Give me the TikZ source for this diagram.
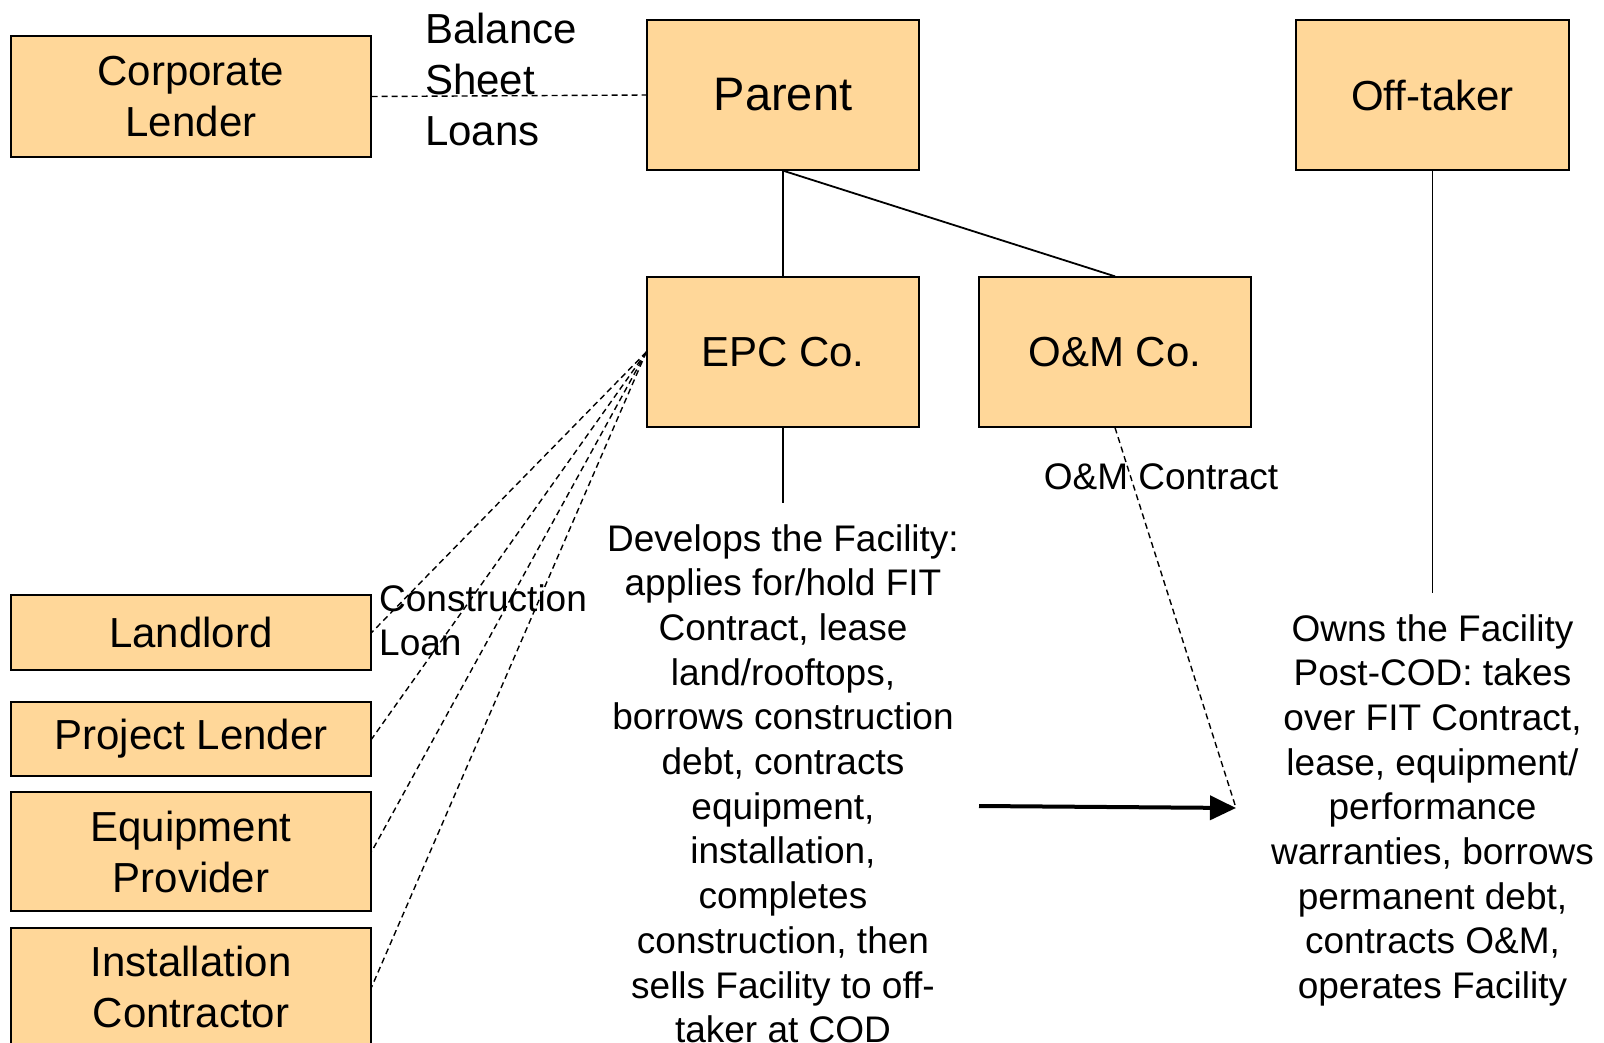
\documentclass[tikz,border=0pt]{standalone}
\usepackage{fontspec}
\setmainfont{Liberation Sans}
\usetikzlibrary{arrows.meta}
\definecolor{boxfill}{HTML}{FFD799}
\tikzset{
  box/.style={draw=black, fill=boxfill, line width=1.3pt, inner sep=0pt, align=center,
    minimum width=#1, font=\fontsize{42}{51}\selectfont},
  box/.default=360pt,
  conn/.style={line width=1.8pt},
  dconn/.style={line width=1.4pt, dash pattern=on 6pt off 4pt},
  lbl/.style={inner sep=0pt, align=left, font=\fontsize{37}{44}\selectfont},
  body/.style={inner xsep=0pt, inner ysep=21pt, align=center, font=\fontsize{37}{44.7}\selectfont},
}
\begin{document}
\begin{tikzpicture}[x=1pt,y=-1pt]
\useasboundingbox (0,0) rectangle (1604,1043);
% boxes
\node[box, minimum height=121pt] (corp) at (191,96.5) {Corporate\\Lender};
\node[box=272pt, minimum height=150pt, font=\fontsize{47}{56}\selectfont] (parent) at (783,95) {Parent};
\node[box=273pt, minimum height=150pt] (off) at (1432.5,95) {Off-taker};
\node[box=272pt, minimum height=150pt] (epc) at (783,352) {EPC Co.};
\node[box=272pt, minimum height=150pt] (om) at (1115,352) {O\&M Co.};
\node[box, minimum height=75pt] (land) at (191,632.5) {Landlord};
\node[box, minimum height=74pt] (proj) at (191,739) {Project Lender};
\node[box, minimum height=119pt] (equip) at (191,851.5) {Equipment\\Provider};
\node[box, minimum height=118pt] (inst) at (191,987) {Installation\\Contractor};
% labels
\node[lbl, anchor=west, font=\fontsize{42}{51}\selectfont] (bsl) at (425,79) {Balance\\Sheet\\Loans};
\node[lbl, anchor=west] (cl) at (379,620) {Construction\\Loan};
\node[lbl, anchor=center] (omc) at (1161,477) {O\&M Contract};
% body texts
\node[body, anchor=north] (dev) at (783,503) {Develops the Facility:\\applies for/hold FIT\\Contract, lease\\land/rooftops,\\borrows construction\\debt, contracts\\equipment,\\installation,\\completes\\construction, then\\sells Facility to off-\\taker at COD};
\node[body, anchor=north] (owns) at (1432.5,593) {Owns the Facility\\Post-COD: takes\\over FIT Contract,\\lease, equipment/\\performance\\warranties, borrows\\permanent debt,\\contracts O\&M,\\operates Facility};
% coordinates for arrow
\coordinate (arrS) at (979,806);
\coordinate (arrE) at (1236,808);
% connectors
\draw[dconn] (corp.east) -- (parent.west);
\draw[conn] (parent.south) -- (epc.north);
\draw[conn] (parent.south) -- (om.north);
\draw[conn] (epc.south) -- (dev.north);
\draw[conn] (off.south) -- (owns.north);
\draw[dconn] (epc.west) -- (land.east);
\draw[dconn] (epc.west) -- (proj.east);
\draw[dconn] (epc.west) -- (equip.east);
\draw[dconn] (epc.west) -- (inst.east);
\draw[dconn] (om.south) -- (arrE);
\draw[line width=4pt, -{Triangle[length=26pt,width=24pt]}] (arrS) -- (arrE);
\end{tikzpicture}
\end{document}
